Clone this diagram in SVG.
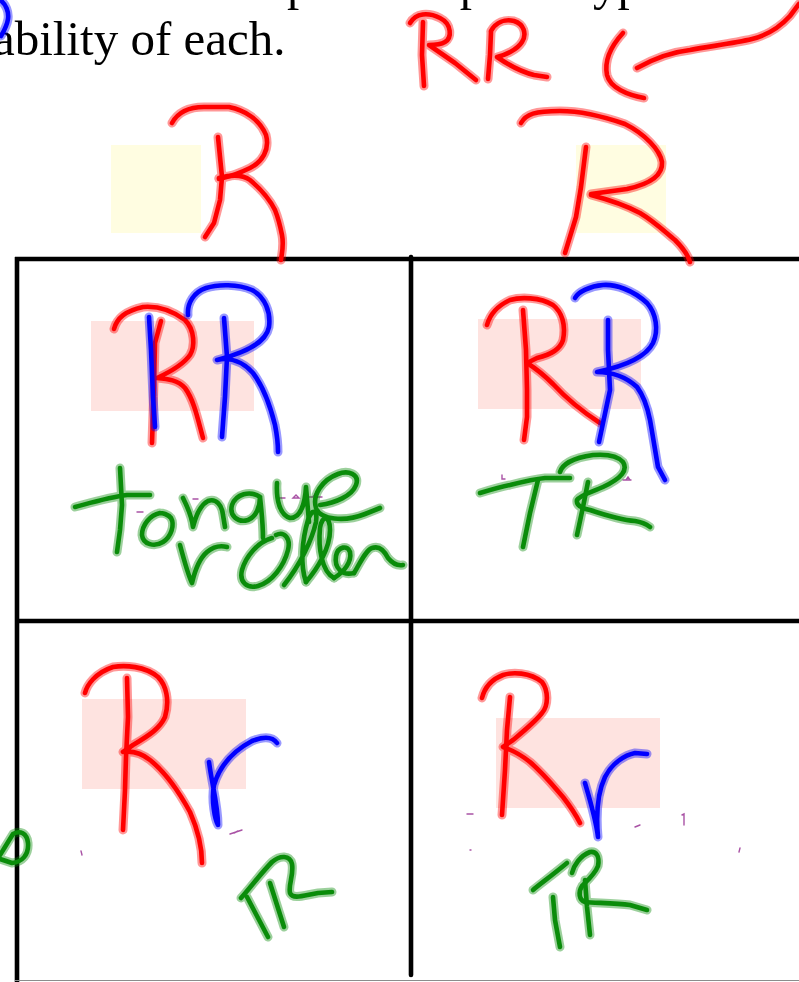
<svg xmlns="http://www.w3.org/2000/svg" width="799" height="982" viewBox="0 0 799 982">
<style>
.pt{font-family:"Liberation Serif","Times New Roman",serif;font-size:49px;fill:#000}
.grid{stroke:#000;stroke-width:4.6;fill:none}
.gedge{stroke:#8c8c8c;stroke-width:1;fill:none}
.pink{fill:#fee3e0}
.yellow{fill:#fffde1}
.ink{fill:none;stroke-linecap:round;stroke-linejoin:round}
.halo{stroke-width:9;opacity:.4}
.core{stroke-width:4.6}
.r{stroke:#ff0000}
.b{stroke:#0000ff}
.g{stroke:#0a8c0a}
.pu{fill:none;stroke:#93278f;stroke-width:1.4;opacity:.8;stroke-linecap:round}
</style>
<defs>
<g id="d-top-blue"><path d="M0,0 C6,4 9,12 8,19 C7,26 4,31 1,36"/></g>
<g id="d-rr-top">
<path d="M410,23 C416,13 428,12 440,18 C452,24 452,38 445,42 C440,45 433,45 429,45 L455,63 L476,80"/>
<path d="M423,22 L422,55 L424,86"/>
<path d="M491,31 C496,22 505,19 514,21 C524,24 527,34 522,42 C517,50 505,55 497,57 C510,66 522,72 534,75 L547,77"/>
<path d="M491,32 L490,55 L488,79"/>
</g>
<g id="d-arrow">
<path d="M623,33 C612,45 604,60 607,75 C610,88 628,95 644,98"/>
<path d="M637,68 C655,58 672,52 690,50 C712,46 735,43 752,39 C768,35 780,27 790,16 L799,4"/>
</g>
<g id="d-hdr-left">
<path d="M172,123 C178,112 190,107 204,107 L229,107 C245,110 260,120 266,135 C270,150 262,162 250,168 C240,173 228,177 219,179"/>
<path d="M218,137 L222,177 L220,200 L214,223 L205,237"/>
<path d="M219,178 C230,175 242,174 250,180 C262,190 270,200 275,210 C279,220 280,225 282,235 C284,245 282,252 281,260"/>
</g>
<g id="d-hdr-right">
<path d="M521,123 C526,114 535,111 560,111 C580,111 605,117 625,124 C645,134 660,150 662,162 C663,175 650,184 627,189 L591,194"/>
<path d="M586,147 L581,187 L576,217 L565,253"/>
<path d="M591,195 C610,200 625,205 640,213 C655,222 665,232 675,240 C683,248 688,255 690,262"/>
</g>
<g id="d-c1-red">
<path d="M114,329 C117,318 125,311 143,307 C155,306 170,309 185,320 C195,330 195,347 190,355 C183,365 170,372 157,378 C168,379 178,380 185,388 C194,400 198,420 203,438"/>
<path d="M161,321 L155,343 L154,383 L152,443"/>
</g>
<g id="d-c1-blue">
<path d="M149,317 L151,350 L153,397 L155,427"/>
<path d="M188,315 C187,303 194,292 206,288 C218,284 238,284 252,290 C265,297 271,312 269,327 C266,342 248,352 217,360 C230,357 243,362 253,373 C262,385 270,405 275,425 C278,440 278,448 278,452"/>
<path d="M224,318 L227,357 L225,397 L222,437"/>
</g>
<g id="d-c1-green">
<path d="M120,468 L122,505 L120,530 L117,552"/>
<path d="M75,507 C90,503 110,497 127,495 L150,495"/>
<path d="M160,513 C150,515 142,525 142,535 C143,545 155,547 163,542 C171,537 175,525 171,518 C168,514 162,513 160,513"/>
<path d="M183,498 C188,508 192,518 193,527 C196,515 200,505 208,501 C216,498 222,505 223,515 L225,527"/>
<path d="M260,497 C250,490 236,494 232,505 C229,516 238,523 248,520 C256,517 260,507 260,497 C262,515 263,528 263,538"/>
<path d="M277,483 C276,500 280,515 290,518 C300,518 305,505 306,487 L309,522"/>
<path d="M320,505 C335,503 352,496 356,485 C360,474 348,470 338,474 C322,480 312,495 316,508 C320,520 345,522 365,514 L380,508"/>
<path d="M180,545 C184,560 188,575 192,583 C195,570 200,558 207,552 C213,547 220,545 227,547"/>
<path d="M272,538 C258,542 246,556 242,570 C239,582 247,589 258,586 C272,582 284,566 288,550 C291,538 284,531 276,535"/>
<path d="M284,585 C300,565 312,540 316,522 C318,510 312,508 308,520 C302,540 300,565 306,582"/>
<path d="M306,582 C318,568 330,548 330,530 C330,515 322,515 320,528 C318,548 322,572 334,578"/>
<path d="M334,578 C344,572 352,562 350,552 C348,545 338,546 336,556 C334,568 342,576 354,573"/>
<path d="M354,573 C360,563 366,550 372,548 C380,545 385,552 388,558 C393,564 398,566 403,565"/>
</g>
<g id="d-c2-red">
<path d="M487,325 C490,314 497,306 510,300 C520,297 540,297 553,305 C562,312 566,325 563,340 C560,350 550,355 537,358 L527,363 C535,368 543,374 553,384 C565,397 580,410 600,423"/>
<path d="M523,310 L526,350 L527,390 L527,417 L524,440"/>
</g>
<g id="d-c2-blue">
<path d="M575,298 C578,292 590,286 603,285 C615,284 633,290 647,303 C656,313 659,330 653,343 C647,355 630,365 597,372 C610,372 625,376 637,387 C643,395 647,405 650,420 C653,437 656,455 658,467 L665,480"/>
<path d="M608,320 L608,350 L610,390 L603,423 L599,442"/>
</g>
<g id="d-c2-green">
<path d="M480,493 C490,490 500,487 510,485 C522,482 535,479 545,478 L570,478"/>
<path d="M538,480 L530,513 L523,547"/>
<path d="M588,482 L583,507 L577,535"/>
<path d="M560,472 C562,465 572,458 593,455 C605,454 617,455 623,462 C628,470 622,478 603,487 C592,492 580,495 577,500 C576,505 580,508 590,510 C605,515 620,520 635,521 C642,522 646,524 650,527"/>
</g>
<g id="d-c3-red">
<path d="M85,693 C87,685 95,673 113,667 C125,665 145,666 158,677 C166,685 170,700 165,717 C160,728 150,735 133,745 L123,752 C130,751 140,752 150,760 C165,772 178,790 190,812 C197,828 202,845 202,863"/>
<path d="M127,678 L128,717 L126,757 L125,790 L123,830"/>
</g>
<g id="d-c3-blue"><path d="M209,762 C212,785 218,805 218,825 C215,820 211,800 214,785 C220,765 235,750 252,741 C262,737 272,736 277,743"/></g>
<g id="d-c3-green">
<path d="M241,898 C250,888 262,872 272,862 C280,855 290,855 292,864 C294,875 288,885 290,893 C293,900 305,895 318,893 L332,892"/>
<path d="M247,897 L268,937"/>
<path d="M270,883 L284,927"/>
<path d="M0,855 L13,834 C20,830 27,833 28,843 C29,855 22,862 12,863 L0,859"/>
</g>
<g id="d-c4-red">
<path d="M482,698 C484,690 490,680 503,675 C512,672 530,672 542,682 C548,690 549,705 542,713 C535,722 525,730 513,740 L503,747 C512,750 520,754 530,762 C545,775 555,788 563,797 C570,806 576,815 580,823"/>
<path d="M510,697 L507,730 L505,770 L502,815"/>
</g>
<g id="d-c4-blue"><path d="M585,783 C590,800 596,820 598,837 C596,815 598,792 605,777 C612,763 625,755 635,753 L647,754"/></g>
<g id="d-c4-green">
<path d="M533,890 C540,884 550,877 567,863"/>
<path d="M553,897 L555,920 L560,947"/>
<path d="M572,873 C574,865 580,856 590,852 C596,851 600,856 598,866 C595,874 588,880 582,886 C578,892 579,900 585,902 C595,903 615,903 630,905 L647,910"/>
<path d="M585,880 L587,907 L590,935"/>
</g>
</defs>

<rect width="799" height="982" fill="#ffffff"/>

<g id="printed-text">
<text class="pt" x="12" y="0">List all of the possible phenotypes and the prob-</text>
<text class="pt" x="-7" y="55">ability of each.</text>
</g>

<g id="highlights">
<rect class="yellow" x="111" y="145" width="90" height="88"/>
<rect class="yellow" x="576" y="145" width="90" height="88"/>
<rect class="pink" x="91" y="321" width="163" height="90"/>
<rect class="pink" x="478" y="319" width="163" height="90"/>
<rect class="pink" x="82" y="699" width="164" height="90"/>
<rect class="pink" x="496" y="718" width="164" height="90"/>
</g>

<g id="grid">
<line class="grid" x1="15" y1="259" x2="799" y2="259"/>
<line class="grid" x1="15" y1="621" x2="799" y2="621"/>
<line class="grid" x1="17" y1="257" x2="17" y2="982"/>
<line class="grid" x1="411" y1="257" x2="411" y2="975" stroke-linecap="round"/>
<line class="gedge" x1="15" y1="980.5" x2="799" y2="980.5"/>
</g>

<g id="annotation-top">
<use href="#d-top-blue" class="ink halo b"/><use href="#d-top-blue" class="ink core b"/>
<use href="#d-rr-top" class="ink halo r"/><use href="#d-rr-top" class="ink core r"/>
<use href="#d-arrow" class="ink halo r"/><use href="#d-arrow" class="ink core r"/>
</g>
<g id="header-left">
<use href="#d-hdr-left" class="ink halo r"/><use href="#d-hdr-left" class="ink core r"/>
</g>
<g id="header-right">
<use href="#d-hdr-right" class="ink halo r"/><use href="#d-hdr-right" class="ink core r"/>
</g>
<g id="cell-1">
<use href="#d-c1-red" class="ink halo r"/><use href="#d-c1-red" class="ink core r"/>
<use href="#d-c1-blue" class="ink halo b"/><use href="#d-c1-blue" class="ink core b"/>
<path class="pu" d="M193,499 h5 M277,498 h8 M293,498 l3,-3 l3,3 z M308,497 h14 M313,497 l2,-3 l3,3 M137,512 h6"/>
<use href="#d-c1-green" class="ink halo g"/><use href="#d-c1-green" class="ink core g"/>
</g>
<g id="cell-2">
<use href="#d-c2-red" class="ink halo r"/><use href="#d-c2-red" class="ink core r"/>
<use href="#d-c2-blue" class="ink halo b"/><use href="#d-c2-blue" class="ink core b"/>
<path class="pu" d="M502,475 v4 h3 M623,480 h8 M626,480 l2,-3 l2,3"/>
<use href="#d-c2-green" class="ink halo g"/><use href="#d-c2-green" class="ink core g"/>
</g>
<g id="cell-3">
<use href="#d-c3-red" class="ink halo r"/><use href="#d-c3-red" class="ink core r"/>
<use href="#d-c3-blue" class="ink halo b"/><use href="#d-c3-blue" class="ink core b"/>
<path class="pu" d="M230,834 l12,-4 M234,833 l4,-2 M81,851 l1,4"/>
<use href="#d-c3-green" class="ink halo g"/><use href="#d-c3-green" class="ink core g"/>
</g>
<g id="cell-4">
<use href="#d-c4-red" class="ink halo r"/><use href="#d-c4-red" class="ink core r"/>
<use href="#d-c4-blue" class="ink halo b"/><use href="#d-c4-blue" class="ink core b"/>
<path class="pu" d="M467,814 h6 M635,827 l5,-2 M682,815 l2,-1 v11 M740,848 l-1,4 M470,850 h1"/>
<use href="#d-c4-green" class="ink halo g"/><use href="#d-c4-green" class="ink core g"/>
</g>
</svg>
